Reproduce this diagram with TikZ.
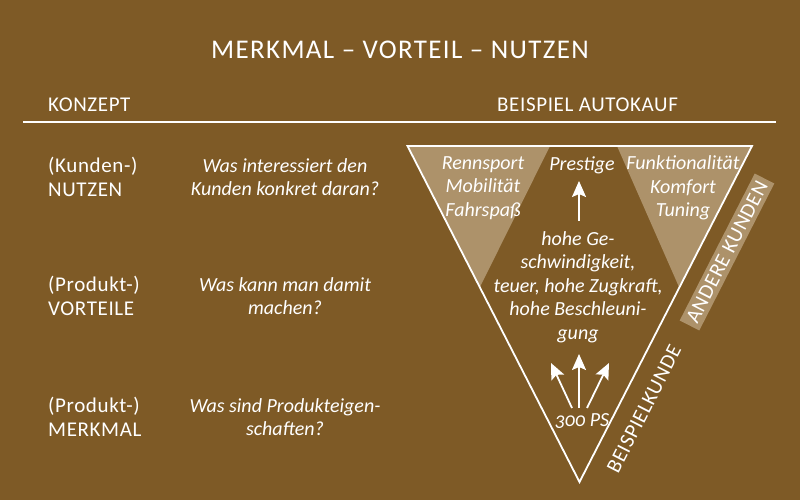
\documentclass[tikz,border=0pt]{standalone}
\usepackage{fontspec}
\setmainfont{Carlito}[Numbers=OldStyle]
\newfontfamily\capsfont{Carlito}[LetterSpace=3]
\newfontfamily\titlefont{Carlito}[LetterSpace=5]
\usetikzlibrary{arrows.meta}
\definecolor{bgbrown}{HTML}{7E5A26}
\definecolor{lighttan}{HTML}{AD926A}
\begin{document}
\begin{tikzpicture}[x=1pt,y=-1pt,
  txt/.style={text=white,inner sep=0pt,font=\capsfont\fontsize{21}{24}\selectfont},
  itxt/.style={text=white,inner sep=0pt,font=\fontsize{20}{23.5}\selectfont\itshape,align=center},
  arr/.style={white,line width=1.8pt,-{Stealth[length=16pt,width=14pt,inset=3pt]}}]
\fill[bgbrown] (0,0) rectangle (800,500);
\useasboundingbox (0,0) rectangle (800,500);
% title and headings
\node[txt,font=\titlefont\fontsize{27}{30}\selectfont,anchor=base] (title) at (400,59) {MERKMAL – VORTEIL – NUTZEN};
\node[txt,anchor=base west] (konzept) at (48,111.5) {KONZEPT};
\node[txt,anchor=base west] (beispiel) at (497,111.5) {BEISPIEL AUTOKAUF};
\coordinate (l1) at (23,122.5);
\coordinate (l2) at (776,122.5);
\draw[white,line width=2pt] (l1) -- (l2);
% left columns
\node[txt,align=left,anchor=west] (k1) at (48,177) {(Kunden-)\\NUTZEN};
\node[txt,align=left,anchor=west] (k2) at (48,296) {(Produkt-)\\VORTEILE};
\node[txt,align=left,anchor=west] (k3) at (48,417) {(Produkt-)\\MERKMAL};
\node[itxt] (q1) at (285,177) {Was interessiert den\\Kunden konkret daran?};
\node[itxt] (q2) at (285,296) {Was kann man damit\\machen?};
\node[itxt] (q3) at (285,417) {Was sind Produkteigen-\\schaften?};
% triangle
\coordinate (A) at (407.5,146);
\coordinate (B) at (752,146);
\coordinate (C) at (579.5,482);
\coordinate (LA) at (550,146);
\coordinate (LB) at (480,287);
\coordinate (RA) at (617,146);
\coordinate (RB) at (679,287);
\fill[lighttan] (A) -- (LA) -- (LB) -- cycle;
\fill[lighttan] (B) -- (RA) -- (RB) -- cycle;
\draw[white,line width=1.8pt,line join=miter] (A) -- (B) -- (C) -- cycle;
\node[itxt] (nl) at (483,188) {Rennsport\\Mobilität\\Fahrspaß};
\node[itxt] (np) at (582,165) {Prestige};
\node[itxt] (nr) at (683,188) {Funktionalität\\Komfort\\Tuning};
\node[itxt] (vt) at (578,287) {hohe Ge-\\schwindigkeit,\\teuer, hohe Zugkraft,\\hohe Beschleuni-\\gung};
\node[itxt] (ps) at (582,421) {300 PS};
\coordinate (t0) at (579,221);
\coordinate (t1) at (579,181);
\draw[arr] (t0) -- (t1);
\coordinate (a0) at (572,408);
\coordinate (a1) at (551,363);
\coordinate (b0) at (579,408);
\coordinate (b1) at (579,354);
\coordinate (c0) at (587,408);
\coordinate (c1) at (609,363);
\draw[arr] (a0) -- (a1);
\draw[arr] (b0) -- (b1);
\draw[arr] (c0) -- (c1);
% side labels
\node[txt,rotate=62.96] (bk) at (644,409) {BEISPIELKUNDE};
\node[txt,rotate=62.96,fill=lighttan,minimum width=165pt,minimum height=22pt,inner sep=0pt] (ak) at (727,252) {ANDERE KUNDEN};
\end{tikzpicture}
\end{document}
